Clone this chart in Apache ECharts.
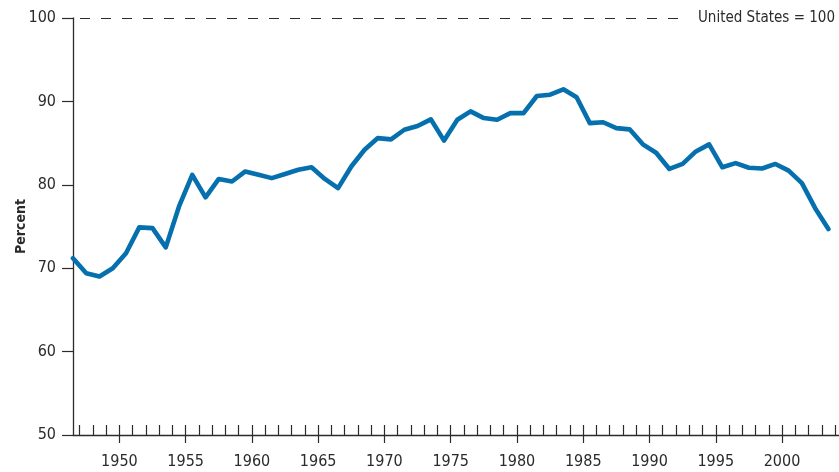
<!DOCTYPE html>
<html>
<head>
<meta charset="utf-8">
<script src="https://cdn.jsdelivr.net/npm/echarts@6/dist/echarts.min.js"></script>
<style>
  html, body { margin: 0; padding: 0; background: #fff; }
  #chart { width: 839px; height: 472px; }
</style>
</head>
<body>
<div id="chart"></div>
<script>
// years (points drawn at mid-year)
var years = [1946, 1947, 1948, 1949, 1950, 1951, 1952, 1953, 1954, 1955,
  1956, 1957, 1958, 1959, 1960, 1961, 1962, 1963, 1964, 1965,
  1966, 1967, 1968, 1969, 1970, 1971, 1972, 1973, 1974, 1975,
  1976, 1977, 1978, 1979, 1980, 1981, 1982, 1983, 1984, 1985,
  1986, 1987, 1988, 1989, 1990, 1991, 1992, 1993, 1994, 1995,
  1996, 1997, 1998, 1999, 2000, 2001, 2002, 2003];
var percent = [71.2, 69.4, 69.0, 70.0, 71.8, 74.9, 74.8, 72.5, 77.4, 81.2,
  78.5, 80.7, 80.4, 81.6, 81.2, 80.8, 81.3, 81.8, 82.1, 80.7,
  79.6, 82.2, 84.2, 85.6, 85.45, 86.6, 87.05, 87.85, 85.3, 87.8,
  88.8, 88.0, 87.8, 88.6, 88.6, 90.65, 90.8, 91.45, 90.5, 87.4,
  87.5, 86.8, 86.65, 84.85, 83.85, 81.9, 82.5, 84.0, 84.85, 82.1,
  82.6, 82.05, 81.95, 82.5, 81.7, 80.2, 77.2, 74.7];
var minorTicks = [1947, 1948, 1949, 1950, 1951, 1952, 1953, 1954, 1955, 1956,
  1957, 1958, 1959, 1960, 1961, 1962, 1963, 1964, 1965, 1966,
  1967, 1968, 1969, 1970, 1971, 1972, 1973, 1974, 1975, 1976,
  1977, 1978, 1979, 1980, 1981, 1982, 1983, 1984, 1985, 1986,
  1987, 1988, 1989, 1990, 1991, 1992, 1993, 1994, 1995, 1996,
  1997, 1998, 1999, 2000, 2001, 2002, 2003, 2004];
var majorTicks = [1950, 1955, 1960, 1965, 1970, 1975, 1980, 1985, 1990, 1995, 2000];
var usLevel = 100;
var usLabel = 'United States = 100';

var font = "'Liberation Sans Narrow', 'DejaVu Sans Condensed', sans-serif";
var ink = '#2b2b2b';
var labelSize = 16;
var noteSize = 15;

var chart = echarts.init(document.getElementById('chart'), null, { renderer: 'canvas' });

var pts = years.map(function (y, i) { return [y + 0.5, percent[i]]; });

var xMin = 1946.5, xMax = 2004.3;

// where the dashed line stops so the label ends near the right edge
function dashEnd() {
  var ctx = document.createElement('canvas').getContext('2d');
  ctx.font = noteSize + 'px ' + font;
  var w = ctx.measureText(usLabel).width;
  var px = 835 - w - 13;
  return chart.convertFromPixel({ xAxisIndex: 0 }, px);
}

function markData(endX) {
  return [[{ coord: [xMin, usLevel] }, { coord: [endX, usLevel] }]];
}

var option = {
  animation: false,
  grid: { left: 73, right: 0, top: 18, bottom: 37, outerBoundsMode: 'none', containLabel: false },
  xAxis: [
    {
      type: 'value', min: xMin, max: xMax,
      axisLine: { show: true, lineStyle: { color: ink, width: 1.3 } },
      axisTick: { show: true, inside: true, length: 10, customValues: minorTicks,
        lineStyle: { color: ink, width: 1.2 } },
      axisLabel: { customValues: majorTicks, margin: 19, fontSize: labelSize,
        fontFamily: font, color: ink, formatter: function (v) { return String(v); } },
      splitLine: { show: false }
    },
    {
      type: 'value', min: xMin, max: xMax, position: 'bottom',
      axisLine: { show: false },
      axisTick: { show: true, inside: false, length: 8, customValues: majorTicks,
        lineStyle: { color: ink, width: 1.2 } },
      axisLabel: { show: false },
      splitLine: { show: false }
    }
  ],
  yAxis: {
    type: 'value', min: 50, max: 100, interval: 10,
    name: 'Percent', nameLocation: 'middle', nameGap: 45, nameRotate: 90,
    nameMoveOverlap: false,
    nameTextStyle: { fontFamily: font, fontWeight: 'bold', fontSize: 14, color: ink },
    axisLine: { show: true, lineStyle: { color: ink, width: 1.3 } },
    axisTick: { show: true, length: 11, lineStyle: { color: ink, width: 1.2 } },
    axisLabel: { margin: 17, fontSize: labelSize, fontFamily: font, color: ink },
    splitLine: { show: false }
  },
  series: [{
    type: 'line',
    xAxisIndex: 0,
    data: pts,
    showSymbol: false,
    lineStyle: { color: '#0570ad', width: 4.6, join: 'round', cap: 'round' },
    markLine: {
      silent: true,
      symbol: ['none', 'none'],
      lineStyle: { type: [10, 11], dashOffset: -7, color: ink, width: 1.2 },
      label: { show: true, position: 'end', distance: 13, formatter: usLabel,
        fontSize: noteSize, fontFamily: font, color: ink },
      data: markData(1993)
    }
  }]
};

chart.setOption(option);
chart.setOption({ series: [{ markLine: { data: markData(dashEnd()) } }] });
</script>
</body>
</html>
